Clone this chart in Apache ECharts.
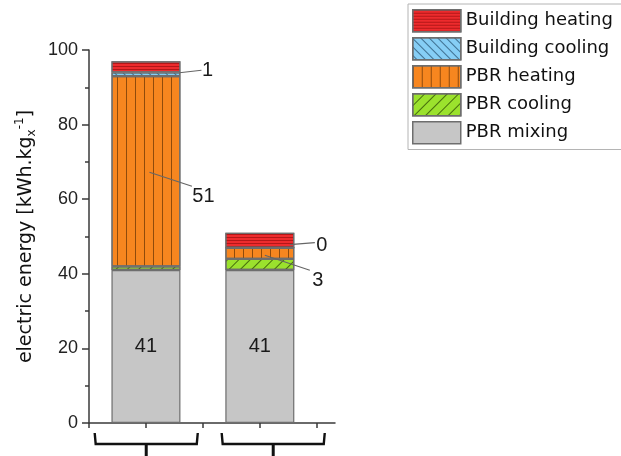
<!DOCTYPE html>
<html>
<head>
<meta charset="utf-8">
<script src="https://cdn.jsdelivr.net/npm/echarts@6/dist/echarts.min.js"></script>
<style>
  html, body { margin: 0; padding: 0; background: #ffffff; }
  #chart { width: 621px; height: 456px; }
</style>
</head>
<body>
<div id="chart"></div>
<script>
// Electric energy demand per kg of biomass, split by consumer (stacked bars).
const seriesNames = ['PBR mixing', 'PBR cooling', 'PBR heating', 'Building cooling', 'Building heating'];
const legendOrder = ['Building heating', 'Building cooling', 'PBR heating', 'PBR cooling', 'PBR mixing'];
const groupPositions = [1, 3];          // bar positions on the x scale
const pbrMixing = [41, 41];
const pbrCooling = [1, 3];
const pbrHeating = [51, 3];
const buildingCooling = [1, 0];
const buildingHeating = [3, 4];
const yTickValues = [0, 20, 40, 60, 80, 100];
const xTickValues = [0, 1, 2, 3, 4];
const groupSpans = [[0.1, 1.91], [2.33, 4.14]];  // bracket extents under each group

const valuesByName = {
  'PBR mixing': pbrMixing,
  'PBR cooling': pbrCooling,
  'PBR heating': pbrHeating,
  'Building cooling': buildingCooling,
  'Building heating': buildingHeating
};

const FONT = 'Liberation Sans, Arial, sans-serif';
const WIDE_FONT = 'DejaVu Sans, Verdana, sans-serif';
const BORDER = '#6e6e6e';

const styles = {
  'PBR mixing':      { color: '#c6c6c6', decal: null },
  'PBR cooling':     { color: '#9be22d', decal: { color: 'rgba(40,70,0,0.75)', symbol: 'rect', symbolSize: 1, dashArrayX: [1, 0], dashArrayY: [1, 7], rotation: -Math.PI / 4 } },
  'PBR heating':     { color: '#f7861f', decal: { color: 'rgba(110,55,5,0.75)', symbol: 'rect', symbolSize: 1, dashArrayX: [1, 7.6], dashArrayY: [4, 0], rotation: 0 } },
  'Building cooling':{ color: '#86cef5', decal: { color: 'rgba(30,70,100,0.7)', symbol: 'rect', symbolSize: 1, dashArrayX: [1, 0], dashArrayY: [1, 5], rotation: Math.PI / 4 } },
  'Building heating':{ color: '#ee2b2d', decal: { color: 'rgba(140,10,10,0.6)', symbol: 'rect', symbolSize: 1, dashArrayX: [1, 0], dashArrayY: [1, 2], rotation: 0 } }
};

// Value callouts: label offset from segment centre and the leader line ends (pixels).
const callouts = [
  { series: 'PBR heating',      index: 0, offset: [57.5, 25.5], from: [3.5, 1],     to: [46, 15] },
  { series: 'Building cooling', index: 0, offset: [61.5, -3.5], from: [33.5, -1.5], to: [55.5, -4] },
  { series: 'Building cooling', index: 1, offset: [62, -2.5],   from: [30, -3],     to: [55, -5] },
  { series: 'PBR heating',      index: 1, offset: [58, 27],     from: [5, 2],       to: [50, 17] }
];

const labelText = { fontFamily: FONT, fontSize: 20, color: '#1a1a1a' };

function buildSeries(name) {
  const vals = valuesByName[name];
  const st = styles[name];
  // value first so the stack runs along the energy dimension
  const data = vals.map((v, i) => {
    const item = { value: [v, groupPositions[i]] };
    const c = callouts.find(c => c.series === name && c.index === i);
    if (c) {
      item.label = Object.assign({ show: true, position: 'inside', offset: c.offset }, labelText);
    } else if (name === 'PBR mixing') {
      item.label = Object.assign({ show: true, position: 'inside' }, labelText);
    }
    return item;
  });
  const itemStyle = { color: st.color, borderColor: BORDER, borderWidth: 1.2 };
  if (st.decal) itemStyle.decal = st.decal;
  return {
    name: name,
    type: 'bar',
    stack: 'total',
    barWidth: 69,
    encode: { x: 1, y: 0 },
    data: data,
    itemStyle: itemStyle,
    label: { show: false, formatter: p => String(p.value[0]) },
    emphasis: { disabled: true },
    animation: false
  };
}

const chart = echarts.init(document.getElementById('chart'), null, { renderer: 'canvas' });

chart.setOption({
  animation: false,
  backgroundColor: '#ffffff',
  textStyle: { fontFamily: FONT },
  grid: { left: 89, right: 286, top: 50, bottom: 33, containLabel: false },
  legend: {
    data: legendOrder,
    orient: 'vertical',
    left: 408,
    top: 4,
    padding: [5, 40, 5, 4],
    itemWidth: 48,
    itemHeight: 22,
    itemGap: 4.5,
    icon: 'rect',
    borderColor: '#b4b4b4',
    borderWidth: 1,
    itemStyle: { borderWidth: 1.5 },
    textStyle: { fontFamily: WIDE_FONT, fontSize: 18, color: '#111' },
    selectedMode: false
  },
  xAxis: {
    type: 'value',
    min: 0,
    max: 4.32,
    interval: 1,
    axisLine: { show: true, onZero: false, lineStyle: { color: '#3a3a3a', width: 1.5 } },
    axisTick: { show: true, customValues: xTickValues, length: 5, lineStyle: { color: '#3a3a3a', width: 1.5 } },
    axisLabel: { show: false },
    splitLine: { show: false }
  },
  yAxis: {
    type: 'value',
    min: 0,
    max: 100,
    interval: 20,
    name: '{a|electric energy [kWh.kg}{sub|x}{sup|-1}{a|]}',
    nameLocation: 'middle',
    nameGap: 51,
    nameTextStyle: {
      rich: {
        a: { fontFamily: WIDE_FONT, fontSize: 19, color: '#111', lineHeight: 24 },
        sub: { fontFamily: WIDE_FONT, fontSize: 12, color: '#111', lineHeight: 12, verticalAlign: 'bottom' },
        sup: { fontFamily: WIDE_FONT, fontSize: 12, color: '#111', lineHeight: 12, verticalAlign: 'top' }
      }
    },
    axisLine: { show: true, lineStyle: { color: '#3a3a3a', width: 1.5 } },
    axisTick: { show: true, length: 7, lineStyle: { color: '#3a3a3a', width: 1.5 } },
    minorTick: { show: true, splitNumber: 2, length: 4, lineStyle: { color: '#3a3a3a', width: 1.5 } },
    axisLabel: {
      fontFamily: FONT, fontSize: 18, color: '#222', margin: 11,
      customValues: yTickValues
    },
    splitLine: { show: false }
  },
  series: seriesNames.map(buildSeries)
});

// Leader lines for callout labels and group brackets below the axis.
function stackMid(name, i) {
  let base = 0;
  for (const n of seriesNames) {
    if (n === name) break;
    base += valuesByName[n][i];
  }
  return base + valuesByName[name][i] / 2;
}

const graphics = [];
callouts.forEach(c => {
  const p = chart.convertToPixel({ gridIndex: 0 }, [groupPositions[c.index], stackMid(c.series, c.index)]);
  graphics.push({
    type: 'line',
    silent: true,
    shape: { x1: p[0] + c.from[0], y1: p[1] + c.from[1], x2: p[0] + c.to[0], y2: p[1] + c.to[1] },
    style: { stroke: '#666', lineWidth: 1.2 },
    z: 10
  });
});

const zeroY = chart.convertToPixel({ gridIndex: 0 }, [0, 0])[1];
groupSpans.forEach(span => {
  const xa = chart.convertToPixel({ gridIndex: 0 }, [span[0], 0])[0];
  const xb = chart.convertToPixel({ gridIndex: 0 }, [span[1], 0])[0];
  const xm = (xa + xb) / 2;
  const yTop = zeroY + 10, yMid = zeroY + 21;
  graphics.push({
    type: 'polyline', silent: true,
    shape: { points: [[xa, yTop], [xa + 1, yMid], [xb - 1, yMid], [xb, yTop]] },
    style: { stroke: '#111', lineWidth: 2.4, fill: null }
  });
  graphics.push({
    type: 'line', silent: true,
    shape: { x1: xm, y1: yMid, x2: xm, y2: zeroY + 40 },
    style: { stroke: '#111', lineWidth: 3 }
  });
});

chart.setOption({ graphic: graphics });
</script>
</body>
</html>
